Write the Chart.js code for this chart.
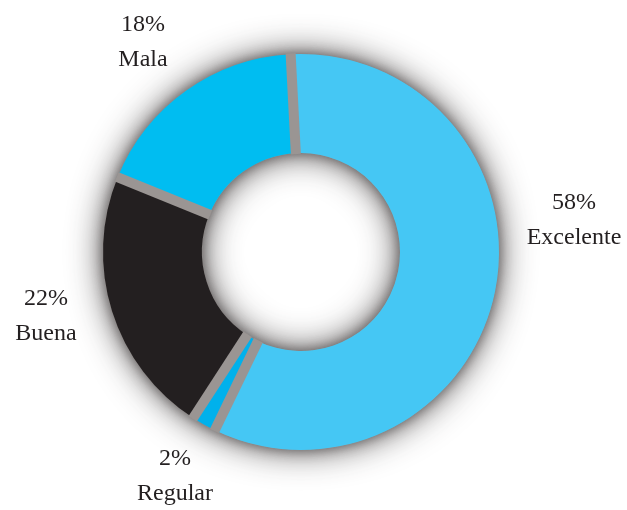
<!DOCTYPE html>
<html>
<head>
<meta charset="utf-8">
<script src="https://cdn.jsdelivr.net/npm/chart.js@4.4.0/dist/chart.umd.min.js"></script>
<style>
    html, body { margin: 0; padding: 0; background: #ffffff; }
    #wrap { width: 627px; height: 510px; }
</style>
</head>
<body>
<div id="wrap"><canvas id="calidad" width="627" height="510"></canvas></div>
<script>
    // datos de la encuesta
    const categorias = ["Excelente", "Regular", "Buena", "Mala"];
    const porcentajes = [58, 2, 22, 18];
    const colores = ["#45c7f4", "#00b1ec", "#231f20", "#00bdf1"];

    // donde va cada etiqueta, relativo al centro del anillo
    const posEtiquetas = [
        [273, -32],
        [-126, 224],
        [-255, 64],
        [-158, -210]
    ];

    const gris = "#9a9593";

    const sombraAnillo = {
        id: 'sombraAnillo',
        beforeDatasetsDraw(chart) {
            const arco = chart.getDatasetMeta(0).data[0];
            const { x, y, innerRadius, outerRadius } = arco;
            const ctx = chart.ctx;
            ctx.save();
            ctx.fillStyle = gris;
            // dos pasadas: una sombra ancha y otra mas cercana
            [[34, 'rgba(60,55,55,0.9)'], [12, 'rgba(90,85,85,0.8)']].forEach(([blur, col]) => {
                ctx.shadowColor = col;
                ctx.shadowBlur = blur;
                ctx.beginPath();
                ctx.arc(x, y, outerRadius, 0, Math.PI * 2);
                ctx.arc(x, y, innerRadius, 0, Math.PI * 2, true);
                ctx.fill();
            });
            ctx.restore();
        },
        afterDatasetsDraw(chart) {
            const ctx = chart.ctx;
            const arcos = chart.getDatasetMeta(0).data;
            ctx.save();
            ctx.strokeStyle = gris;
            ctx.lineWidth = 10;
            ctx.lineCap = 'butt';
            arcos.forEach(a => {
                const c = Math.cos(a.startAngle);
                const s = Math.sin(a.startAngle);
                ctx.beginPath();
                ctx.moveTo(a.x + c * (a.innerRadius - 1), a.y + s * (a.innerRadius - 1));
                ctx.lineTo(a.x + c * (a.outerRadius + 1), a.y + s * (a.outerRadius + 1));
                ctx.stroke();
            });
            ctx.restore();
        },
        afterDraw(chart) {
            const ctx = chart.ctx;
            const a0 = chart.getDatasetMeta(0).data[0];
            ctx.save();
            ctx.fillStyle = '#231f20';
            ctx.font = '24px "Liberation Serif", serif';
            ctx.textAlign = 'center';
            ctx.textBaseline = 'middle';
            categorias.forEach((cat, i) => {
                const px = a0.x + posEtiquetas[i][0];
                const py = a0.y + posEtiquetas[i][1];
                ctx.fillText(porcentajes[i] + '%', px, py - 17);
                ctx.fillText(cat, px, py + 18);
            });
            ctx.restore();
        }
    };

    new Chart("calidad", {
        type: "doughnut",
        data: {
            labels: categorias,
            datasets: [{
                data: porcentajes,
                backgroundColor: colores,
                borderWidth: 0
            }]
        },
        options: {
            responsive: false,
            animation: false,
            devicePixelRatio: 1,
            rotation: -3,
            cutout: '50%',
            layout: {
                padding: { left: 103, top: 54, right: 128, bottom: 60 }
            },
            plugins: {
                legend: { display: false },
                tooltip: { enabled: false }
            }
        },
        plugins: [sombraAnillo]
    });
</script>
</body>
</html>
